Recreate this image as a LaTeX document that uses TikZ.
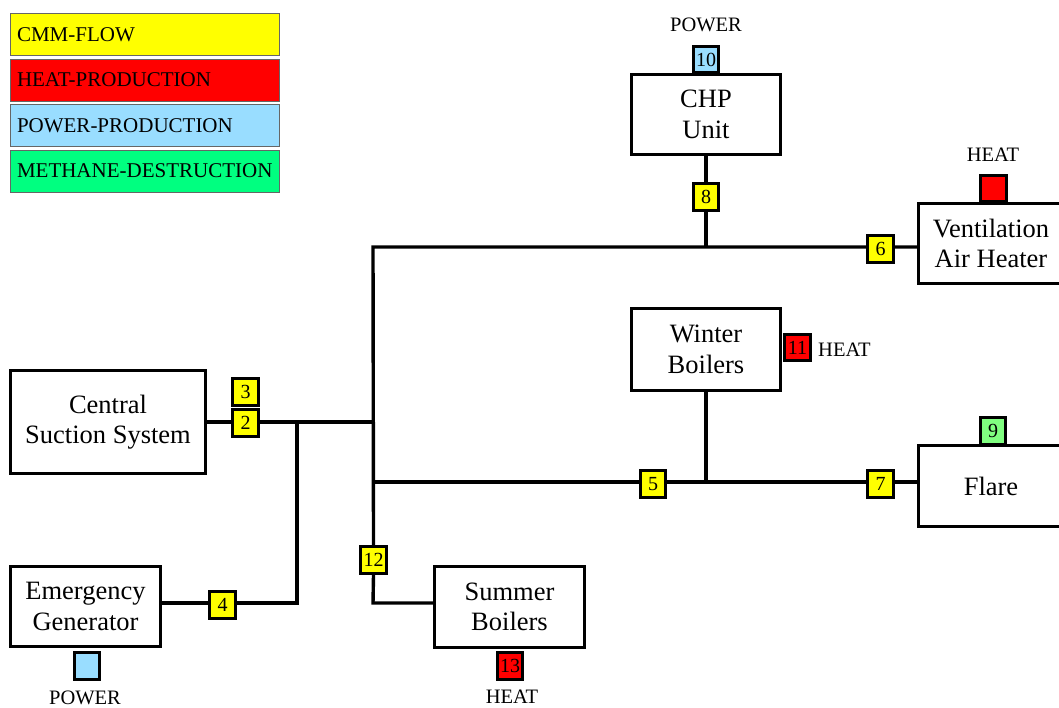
\documentclass[tikz,border=0pt]{standalone}
\usepackage{fontspec}
\setmainfont{LiberationSerif}[Extension=.ttf, UprightFont=*-Regular, BoldFont=*-Bold, ItalicFont=*-Italic, BoldItalicFont=*-BoldItalic]
\usetikzlibrary{backgrounds}
\definecolor{cmm}{RGB}{255,255,0}
\definecolor{heat}{RGB}{255,0,0}
\definecolor{power}{RGB}{153,221,255}
\definecolor{meth}{RGB}{0,255,128}
\definecolor{flaregreen}{RGB}{128,255,128}
\begin{document}
\begin{tikzpicture}[x=1pt,y=-1pt,
  unit/.style={draw, line width=3.4pt, fill=white, inner sep=0pt, align=center,
    font=\fontsize{26.5}{30.5}\selectfont},
  port/.style={draw, line width=3.4pt, minimum width=25.5pt, minimum height=26.5pt,
    inner sep=0pt, font=\fontsize{20}{20}\selectfont},
  pipe/.style={line width=3.4pt},
  legendbox/.style={draw=black!60, line width=1pt, minimum width=269pt, minimum height=42pt,
    inner sep=0pt, text width=256pt, align=left, font=\fontsize{21}{21}\selectfont},
  tag/.style={inner sep=0pt, font=\fontsize{20.5}{20.5}\selectfont}
]
\useasboundingbox (0,0) rectangle (1059,707);

% legend
\node[legendbox, fill=cmm]   (lg1) at (145,34.5)  {CMM-FLOW};
\node[legendbox, fill=heat]  (lg2) at (145,80)    {HEAT-PRODUCTION};
\node[legendbox, fill=power] (lg3) at (145,125.5) {POWER-PRODUCTION};
\node[legendbox, fill=meth]  (lg4) at (145,171)   {METHANE-DESTRUCTION};

% units
\node[unit, minimum width=148.5pt, minimum height=79.5pt] (chp) at (706,114.5) {CHP\\Unit};
\node[unit, minimum width=145pt, minimum height=79.5pt] (vent) at (991,243.5) {Ventilation\\Air Heater};
\node[unit, minimum width=194.5pt, minimum height=103.5pt] (central) at (108,422) {Central\\Suction System};
\node[unit, minimum width=149.5pt, minimum height=79.5pt] (emerg) at (85.5,606.5) {Emergency\\Generator};
\node[unit, minimum width=148.5pt, minimum height=81.5pt] (winter) at (706,349.5) {Winter\\Boilers};
\node[unit, minimum width=149.5pt, minimum height=80.5pt] (summer) at (509.5,607) {Summer\\Boilers};
\node[unit, minimum width=145pt, minimum height=80.5pt] (flare) at (991,486) {Flare};

% ports
\node[port, fill=power] (p10) at (706,59.5) {10};
\node[port, fill=cmm] (p8) at (706,197) {8};
\node[port, fill=cmm] (p6) at (880.5,249) {6};
\node[port, fill=heat] (pv) at (993.5,188.5) {};
\node[port, fill=cmm] (p3) at (245.5,392) {3};
\node[port, fill=cmm] (p2) at (245.5,423) {2};
\node[port, fill=cmm] (p4) at (222.5,605) {4};
\node[port, fill=power] (pe) at (87,666) {};
\node[port, fill=cmm] (p12) at (373.5,560) {12};
\node[port, fill=heat] (p13) at (510,666) {13};
\node[port, fill=heat] (p11) at (797.5,347.5) {11};
\node[port, fill=cmm] (p5) at (653,484) {5};
\node[port, fill=cmm] (p7) at (880.5,484) {7};
\node[port, fill=flaregreen] (p9) at (993,431) {9};

% tags
\node[tag] (t1) at (706,25) {POWER};
\node[tag] (t2) at (993,155) {HEAT};
\node[tag, anchor=west] (t3) at (818,350) {HEAT};
\node[tag] (t4) at (85,698) {POWER};
\node[tag] (t5) at (512,697) {HEAT};

% junctions
\coordinate (jA) at (373,247);
\coordinate (jB) at (373,422);
\coordinate (jC) at (373,482);
\coordinate (jD) at (297,422);
\coordinate (jE) at (706,247);
\coordinate (jG) at (297,603);
\coordinate (jH) at (373,603);

\begin{scope}[on background layer]
  \draw[pipe] (central.east) -- (jB);
  \draw[pipe] (emerg.east |- jG) -- (jG) -- (jD);
  \draw[pipe] (vent.west |- jA) -- (jA) -- (p12.north);
  \draw[pipe] (p12.south) -- (jH) -- (summer.west |- jH);
  \draw[pipe] (chp.south) -- (jE);
  \draw[pipe] (jC) -- (flare.west |- jC);
  \draw[pipe] (winter.south) -- (winter.south |- jC);
\end{scope}
\end{tikzpicture}
\end{document}
